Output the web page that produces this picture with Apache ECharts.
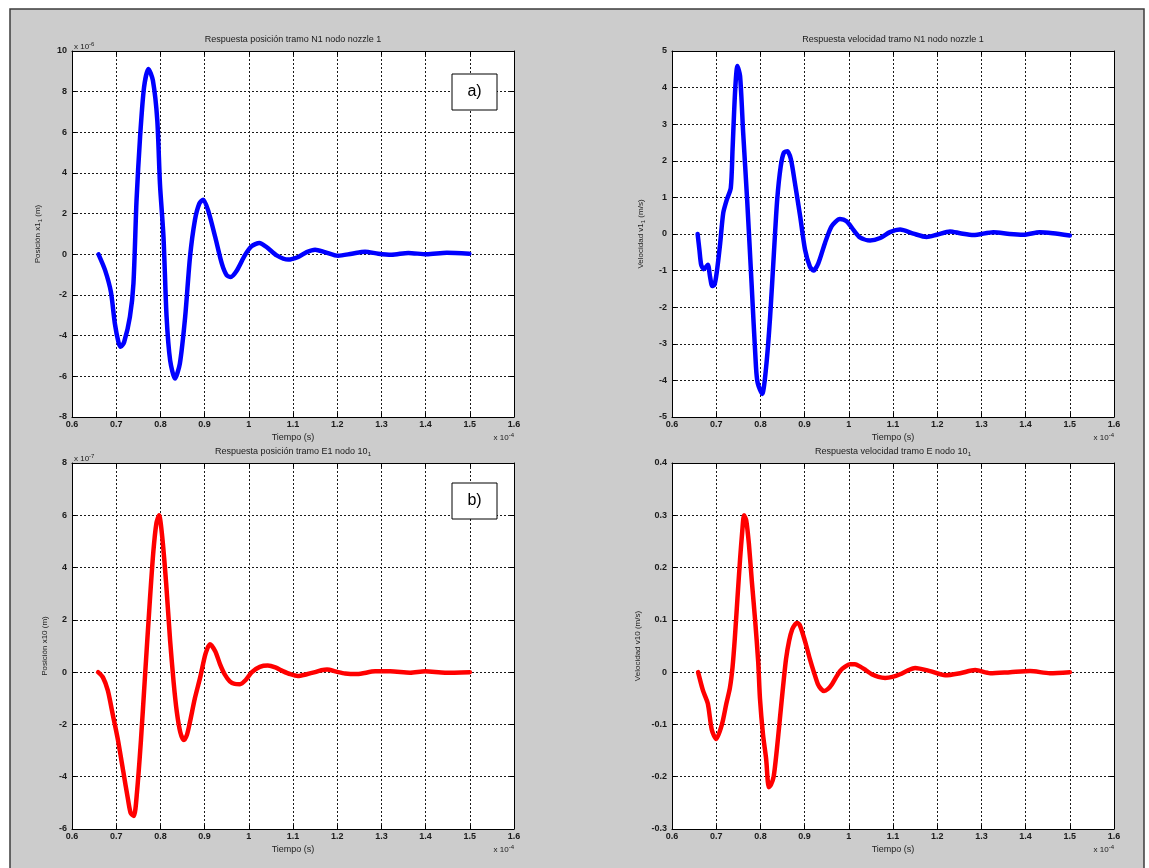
<!DOCTYPE html>
<html>
<head>
<meta charset="utf-8">
<script src="https://cdn.jsdelivr.net/npm/echarts/dist/echarts.min.js"></script>
<style>
  html, body { margin: 0; padding: 0; background: #ffffff; }
  #chart { width: 1149px; height: 868px; }
</style>
</head>
<body>
<div id="chart"></div>
<script>
// Time axis in units of 1e-4 s
const xTicks = { min: 0.6, max: 1.6, step: 0.1 };

// a) position, tramo N1, nodo nozzle 1 (x1_1 in units of 1e-6 m)
const tPosN1 = [0.660,0.675,0.688,0.697,0.705,0.710,0.718,0.731,0.739,0.746,0.754,0.763,0.773,0.783,0.793,0.799,0.807,0.814,0.822,0.833,0.844,0.856,0.867,0.878,0.888,0.897,0.908,0.924,0.939,0.950,0.959,0.973,0.991,1.006,1.024,1.040,1.063,1.089,1.112,1.131,1.150,1.172,1.202,1.233,1.263,1.293,1.323,1.361,1.402,1.448,1.499];
const xPosN1 = [0,-0.79,-1.85,-3.41,-4.31,-4.55,-4.31,-3.08,-1.44,2.65,5.77,8.22,9.12,8.55,6.58,3.47,0.85,-3.08,-5.21,-6.11,-5.37,-3.08,-0.13,1.67,2.49,2.69,2.16,0.85,-0.46,-1.03,-1.11,-0.79,-0.05,0.39,0.56,0.36,-0.05,-0.26,-0.13,0.11,0.23,0.11,-0.07,0.03,0.13,0.03,-0.02,0.07,0,0.08,0.03];

// a) velocity, tramo N1, nodo nozzle 1 (v1_1 in m/s)
const tVelN1 = [0.658,0.662,0.666,0.672,0.681,0.686,0.691,0.696,0.701,0.709,0.716,0.724,0.733,0.737,0.743,0.748,0.754,0.761,0.770,0.780,0.790,0.794,0.804,0.813,0.822,0.831,0.838,0.846,0.853,0.861,0.869,0.878,0.890,0.901,0.912,0.920,0.931,0.946,0.961,0.980,0.995,1.010,1.025,1.048,1.071,1.093,1.116,1.146,1.176,1.199,1.229,1.252,1.282,1.327,1.364,1.395,1.432,1.462,1.500];
const vVelN1 = [0,-0.43,-0.84,-0.96,-0.84,-1.16,-1.42,-1.39,-1.07,-0.25,0.58,0.94,1.26,2.31,3.95,4.59,4.32,2.77,0.94,-1.34,-3.63,-4.08,-4.37,-3.63,-2.26,-0.43,0.94,1.85,2.22,2.26,2.04,1.40,0.48,-0.43,-0.89,-1.00,-0.80,-0.25,0.21,0.41,0.35,0.12,-0.09,-0.18,-0.11,0.05,0.12,0.01,-0.08,-0.02,0.07,0.02,-0.03,0.05,0,-0.02,0.05,0.02,-0.04];

// b) position, tramo E1, nodo 10_1 (x10 in units of 1e-7 m)
const tPosE1 = [0.659,0.670,0.681,0.692,0.704,0.716,0.727,0.733,0.740,0.747,0.756,0.765,0.776,0.784,0.791,0.797,0.804,0.813,0.822,0.830,0.837,0.845,0.853,0.860,0.867,0.878,0.890,0.902,0.912,0.924,0.935,0.946,0.957,0.968,0.980,0.993,1.007,1.025,1.043,1.060,1.077,1.094,1.111,1.131,1.150,1.164,1.177,1.198,1.218,1.245,1.286,1.320,1.365,1.399,1.444,1.500];
const xPosE1 = [0,-0.2,-0.7,-1.6,-2.6,-3.8,-4.9,-5.4,-5.5,-4.6,-2.6,-0.2,2.7,4.6,5.7,6.0,5.2,3.4,1.2,-0.4,-1.5,-2.3,-2.6,-2.4,-1.9,-1.0,-0.2,0.7,1.07,0.8,0.3,-0.1,-0.35,-0.45,-0.46,-0.3,0,0.2,0.25,0.18,0.04,-0.08,-0.15,-0.08,0,0.07,0.1,0.02,-0.05,-0.07,0.03,0.03,-0.02,0.03,-0.02,0];

// b) velocity, tramo E, nodo 10_1 (v10 in m/s)
const tVelE1 = [0.659,0.670,0.681,0.690,0.700,0.713,0.723,0.731,0.737,0.742,0.748,0.754,0.759,0.763,0.768,0.774,0.781,0.788,0.795,0.799,0.806,0.813,0.819,0.824,0.830,0.837,0.844,0.851,0.858,0.865,0.872,0.879,0.883,0.889,0.896,0.904,0.912,0.921,0.930,0.937,0.944,0.953,0.962,0.971,0.980,0.991,1.003,1.014,1.025,1.038,1.052,1.067,1.082,1.099,1.116,1.133,1.150,1.184,1.218,1.252,1.286,1.320,1.365,1.410,1.455,1.500];
const vVelE1 = [0,-0.035,-0.06,-0.11,-0.128,-0.10,-0.06,-0.03,0.01,0.063,0.14,0.216,0.27,0.30,0.29,0.245,0.17,0.10,0.02,-0.05,-0.12,-0.166,-0.22,-0.215,-0.20,-0.15,-0.09,-0.03,0.025,0.06,0.082,0.092,0.094,0.09,0.073,0.05,0.025,0.0,-0.023,-0.032,-0.036,-0.032,-0.023,-0.01,0.002,0.01,0.015,0.015,0.011,0.004,-0.004,-0.009,-0.011,-0.009,-0.004,0.003,0.008,0.002,-0.006,-0.002,0.004,-0.002,0,0.002,-0.002,0];

// y axis ranges for each panel
const yRanges = [
  { min: -8, max: 10, step: 2 },
  { min: -5, max: 5, step: 1 },
  { min: -6, max: 8, step: 2 },
  { min: -0.3, max: 0.4, step: 0.1 }
];

const titles = [
  'Respuesta posición tramo N1 nodo nozzle 1',
  'Respuesta velocidad tramo N1 nodo nozzle 1',
  'Respuesta posición tramo E1 nodo 10{s|1}',
  'Respuesta velocidad tramo E nodo 10{s|1}'
];
const yNames = [
  'Posición x1{s|1} (m)',
  'Velocidad v1{s|1} (m/s)',
  'Posición x10 (m)',
  'Velocidad v10 (m/s)'
];
const xName = 'Tiempo (s)';
const xExponent = '-4';
const yExponents = ['-6', null, '-7', null];
const panelTags = ['a)', null, 'b)', null];

const seriesData = [
  [tPosN1, xPosN1, '#0000ff'],
  [tVelN1, vVelN1, '#0000ff'],
  [tPosE1, xPosE1, '#ff0000'],
  [tVelE1, vVelE1, '#ff0000']
];

const FONT = 'Liberation Sans, Arial, Helvetica, sans-serif';

// plot boxes
const boxes = [
  { left: 72, top: 51, width: 442, height: 366 },
  { left: 672, top: 51, width: 442, height: 366 },
  { left: 72, top: 463, width: 442, height: 366 },
  { left: 672, top: 463, width: 442, height: 366 }
];
const yNameGaps = [29, 26, 23, 30];

function fmt(v) {
  return String(parseFloat(v.toFixed(4)));
}

const grids = [], xAxes = [], yAxes = [], series = [];
const gridLine = { show: true, lineStyle: { color: '#1a1a1a', type: [2, 2], width: 1 } };
const blackLine = { show: true, onZero: false, lineStyle: { color: '#000', width: 1 } };
const tickIn = { show: true, inside: true, length: 4, lineStyle: { color: '#000' } };
const tickLabel = { color: '#1a1a1a', fontSize: 9, fontWeight: 'bold', fontFamily: FONT };
const subRich = { s: { fontSize: 6, fontFamily: FONT, color: '#222', padding: [4, 0, 0, 0] } };

boxes.forEach((b, i) => {
  grids.push({ left: b.left, top: b.top, width: b.width, height: b.height, show: true,
    backgroundColor: '#ffffff', borderWidth: 0, containLabel: false });
  const yr = yRanges[i];
  // bottom time axis
  xAxes.push({ type: 'value', gridIndex: i, min: xTicks.min, max: xTicks.max, interval: xTicks.step,
    position: 'bottom', axisLine: blackLine, axisTick: tickIn, splitLine: gridLine,
    axisLabel: Object.assign({ margin: 3, formatter: fmt }, tickLabel),
    name: xName, nameLocation: 'middle', nameGap: 16,
    nameTextStyle: { fontSize: 9, color: '#222', fontFamily: FONT } });
  // left value axis
  yAxes.push({ type: 'value', gridIndex: i, min: yr.min, max: yr.max, interval: yr.step,
    position: 'left', axisLine: blackLine, axisTick: tickIn, splitLine: gridLine,
    axisLabel: Object.assign({ margin: 5, formatter: fmt }, tickLabel),
    name: yNames[i], nameLocation: 'middle', nameGap: yNameGaps[i],
    nameTextStyle: { fontSize: 8, color: '#222', fontFamily: FONT, rich: subRich } });
  series.push({ type: 'line', xAxisIndex: i, yAxisIndex: i, smooth: 0.25, showSymbol: false,
    data: seriesData[i][0].map((t, k) => [t, seriesData[i][1][k]]),
    lineStyle: { color: seriesData[i][2], width: 4.5, cap: 'round', join: 'round' },
    itemStyle: { color: seriesData[i][2] }, animation: false, z: 3 });
});
// top and right frame axes with inward ticks
boxes.forEach((b, i) => {
  const yr = yRanges[i];
  xAxes.push({ type: 'value', gridIndex: i, min: xTicks.min, max: xTicks.max, interval: xTicks.step,
    position: 'top', axisLine: blackLine, axisTick: tickIn, splitLine: { show: false },
    axisLabel: { show: false } });
  yAxes.push({ type: 'value', gridIndex: i, min: yr.min, max: yr.max, interval: yr.step,
    position: 'right', axisLine: blackLine, axisTick: tickIn, splitLine: { show: false },
    axisLabel: { show: false } });
});

const graphics = [
  // figure window
  { type: 'rect', z: -10, shape: { x: 10, y: 9, width: 1134, height: 880 },
    style: { fill: '#cccccc', stroke: '#3c3c3c', lineWidth: 1.5 } }
];
boxes.forEach((b, i) => {
  graphics.push({ type: 'text', x: b.left + b.width / 2, y: b.top - 11, z: 5,
    style: { text: titles[i], fill: '#1a1a1a', font: '9px ' + FONT, align: 'center', verticalAlign: 'middle',
      rich: { s: { fontSize: 6, fontFamily: FONT, fill: '#1a1a1a', padding: [5, 0, 0, 0] } } } });
  graphics.push({ type: 'text', x: b.left + b.width, y: b.top + b.height + 21, z: 5,
    style: { text: 'x 10{e|' + xExponent + '}', fill: '#1a1a1a', font: '8px ' + FONT, align: 'right', verticalAlign: 'middle',
      rich: { e: { fontSize: 6, fontFamily: FONT, fill: '#1a1a1a', padding: [0, 0, 6, 0] } } } });
  if (yExponents[i]) {
    graphics.push({ type: 'text', x: b.left + 2, y: b.top - 4, z: 5,
      style: { text: 'x 10{e|' + yExponents[i] + '}', fill: '#1a1a1a', font: '8px ' + FONT, align: 'left', verticalAlign: 'middle',
        rich: { e: { fontSize: 6, fontFamily: FONT, fill: '#1a1a1a', padding: [0, 0, 6, 0] } } } });
  }
  if (panelTags[i]) {
    const bx = b.left + 380, by = b.top + (i === 0 ? 23 : 20);
    graphics.push({ type: 'rect', z: 6, shape: { x: bx, y: by, width: 45, height: 36 },
      style: { fill: '#ffffff', stroke: '#000000', lineWidth: 1 } });
    graphics.push({ type: 'text', z: 7, x: bx + 22.5, y: by + 18,
      style: { text: panelTags[i], fill: '#000', font: '16px ' + FONT, align: 'center', verticalAlign: 'middle' } });
  }
});

const chart = echarts.init(document.getElementById('chart'), null, { renderer: 'canvas' });
chart.setOption({
  animation: false,
  backgroundColor: '#ffffff',
  grid: grids,
  xAxis: xAxes,
  yAxis: yAxes,
  series: series,
  graphic: graphics
});
</script>
</body>
</html>
